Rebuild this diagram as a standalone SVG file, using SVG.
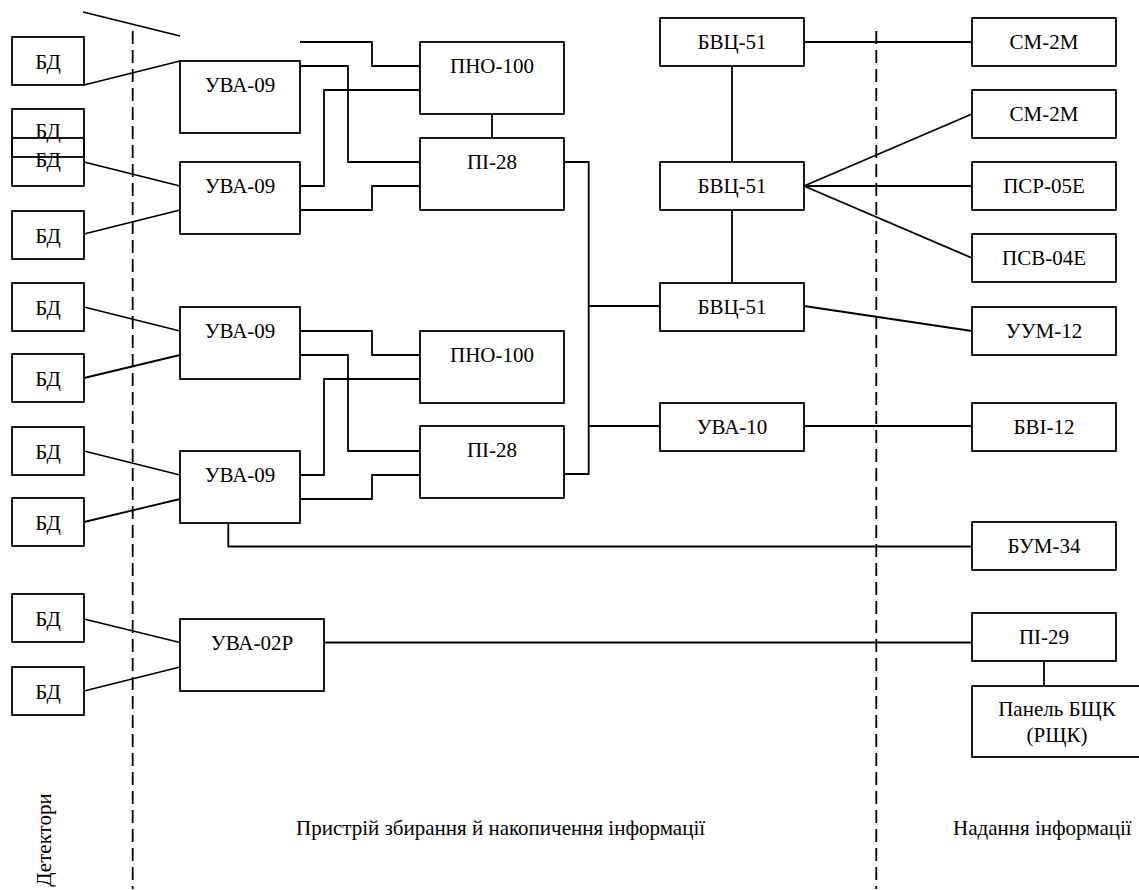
<svg xmlns="http://www.w3.org/2000/svg" width="1139" height="890" viewBox="0 0 1139 890" font-family="Liberation Serif, Times New Roman, serif" font-size="21">
<style>
rect{fill:none;stroke:#000;stroke-width:1.8}
.c line,.c polyline{fill:none;stroke:#000;stroke-width:1.8}
.d{stroke:#000;stroke-width:1.8;stroke-dasharray:13,6;fill:none}
.m{text-anchor:middle}
</style>
<rect x="0" y="0" width="1139" height="890" style="fill:#fff;stroke:none"/>
<line class="d" x1="132.7" y1="31" x2="132.7" y2="889"/>
<line class="d" x1="876.3" y1="31" x2="876.3" y2="889"/>
<g class="c" id="connectors">
<line x1="83" y1="12" x2="180" y2="36"/>
<line x1="84" y1="85" x2="180" y2="61"/>
<line x1="84" y1="162" x2="180" y2="186"/>
<line x1="84" y1="234" x2="180" y2="210"/>
<polyline points="300,66 348,66 348,162 420,162"/>
<polyline points="300,186 324,186 324,90 420,90"/>
<polyline points="300,210 372,210 372,186 420,186"/>
<polyline points="300,42 372,42 372,66 420,66"/>
<line x1="492" y1="114" x2="492" y2="138"/>
<polyline points="564,162 588.7,162 588.7,474 564,474"/>
<line x1="588.7" y1="306" x2="660" y2="306"/>
<line x1="588.7" y1="426" x2="660" y2="426"/>
<line x1="732" y1="66" x2="732" y2="162"/>
<line x1="732" y1="210" x2="732" y2="283"/>
<line x1="804" y1="42" x2="972" y2="42"/>
<line x1="804" y1="186" x2="972" y2="114"/>
<line x1="804" y1="186" x2="972" y2="186"/>
<line x1="804" y1="186" x2="972" y2="258"/>
<line x1="804" y1="306" x2="972" y2="331"/>
<line x1="804" y1="426" x2="972" y2="426"/>
<line x1="84" y1="307" x2="180" y2="331"/>
<line x1="84" y1="378" x2="180" y2="355"/>
<line x1="84" y1="451" x2="180" y2="475"/>
<line x1="84" y1="522" x2="180" y2="499"/>
<polyline points="300,331 372,331 372,355 420,355"/>
<polyline points="300,355 348,355 348,451 420,451"/>
<polyline points="300,475 324,475 324,379 420,379"/>
<polyline points="300,499 372,499 372,475 420,475"/>
<polyline points="228.3,523 228.3,546.5 972,546.5"/>
<line x1="84" y1="619" x2="180" y2="642.5"/>
<line x1="84" y1="691" x2="180" y2="667"/>
<line x1="324" y1="642.5" x2="972" y2="642.5"/>
<line x1="1044" y1="661" x2="1044" y2="686"/>
</g>
<g id="bd1"><rect x="12" y="37" width="72" height="48"/><text class="m" x="48" y="69">БД</text></g>
<g id="bd2"><rect x="12" y="109" width="72" height="48"/><text class="m" x="48" y="138">БД</text></g>
<g id="bd3"><rect x="12" y="138" width="72" height="48"/><text class="m" x="48" y="167">БД</text></g>
<g id="bd4"><rect x="12" y="211" width="72" height="48"/><text class="m" x="48" y="243">БД</text></g>
<g id="bd5"><rect x="12" y="283" width="72" height="48"/><text class="m" x="48" y="315">БД</text></g>
<g id="bd6"><rect x="12" y="354" width="72" height="48"/><text class="m" x="48" y="386">БД</text></g>
<g id="bd7"><rect x="12" y="427" width="72" height="48"/><text class="m" x="48" y="459">БД</text></g>
<g id="bd8"><rect x="12" y="498" width="72" height="48"/><text class="m" x="48" y="530">БД</text></g>
<g id="bd9"><rect x="12" y="594" width="72" height="48"/><text class="m" x="48" y="626">БД</text></g>
<g id="bd10"><rect x="12" y="667" width="72" height="48"/><text class="m" x="48" y="699">БД</text></g>
<g id="uva09-1"><rect x="180" y="61" width="120" height="72"/><text class="m" x="240" y="92">УВА-09</text></g>
<g id="uva09-2"><rect x="180" y="162" width="120" height="72"/><text class="m" x="240" y="193">УВА-09</text></g>
<g id="uva09-3"><rect x="180" y="307" width="120" height="72"/><text class="m" x="240" y="338">УВА-09</text></g>
<g id="uva09-4"><rect x="180" y="451" width="120" height="72"/><text class="m" x="240" y="482">УВА-09</text></g>
<g id="uva02r"><rect x="180" y="619" width="144" height="72"/><text class="m" x="252" y="650">УВА-02Р</text></g>
<g id="pno100-1"><rect x="420" y="42" width="144" height="72"/><text class="m" x="492" y="73">ПНО-100</text></g>
<g id="pi28-1"><rect x="420" y="138" width="144" height="72"/><text class="m" x="492" y="169">ПІ-28</text></g>
<g id="pno100-2"><rect x="420" y="331" width="144" height="72"/><text class="m" x="492" y="362">ПНО-100</text></g>
<g id="pi28-2"><rect x="420" y="426" width="144" height="72"/><text class="m" x="492" y="457">ПІ-28</text></g>
<g id="bvc51-1"><rect x="660" y="18" width="144" height="48"/><text class="m" x="732" y="49">БВЦ-51</text></g>
<g id="bvc51-2"><rect x="660" y="162" width="144" height="48"/><text class="m" x="732" y="193">БВЦ-51</text></g>
<g id="bvc51-3"><rect x="660" y="283" width="144" height="48"/><text class="m" x="732" y="314">БВЦ-51</text></g>
<g id="uva10"><rect x="660" y="403" width="144" height="48"/><text class="m" x="732" y="434">УВА-10</text></g>
<g id="cm2m-1"><rect x="972" y="18" width="144" height="48"/><text class="m" x="1044" y="49">СМ-2М</text></g>
<g id="cm2m-2"><rect x="972" y="90" width="144" height="48"/><text class="m" x="1044" y="121">СМ-2М</text></g>
<g id="psr05e"><rect x="972" y="162" width="144" height="48"/><text class="m" x="1044" y="193">ПСР-05Е</text></g>
<g id="psv04e"><rect x="972" y="234" width="144" height="48"/><text class="m" x="1044" y="265">ПСВ-04Е</text></g>
<g id="uum12"><rect x="972" y="307" width="144" height="48"/><text class="m" x="1044" y="338">УУМ-12</text></g>
<g id="bvi12"><rect x="972" y="403" width="144" height="48"/><text class="m" x="1044" y="434">БВІ-12</text></g>
<g id="bum34"><rect x="972" y="522" width="144" height="48"/><text class="m" x="1044" y="553">БУМ-34</text></g>
<g id="pi29"><rect x="972" y="613" width="144" height="48"/><text class="m" x="1044" y="644">ПІ-29</text></g>
<g id="panel"><rect x="972" y="686" width="170" height="71"/><text class="m" x="1057" y="716">Панель БЩК</text><text class="m" x="1057" y="742">(РЩК)</text></g>
<g id="labels">
<text class="m" transform="translate(51,840) rotate(-90)">Детектори</text>
<text x="296" y="835">Пристрій збирання й накопичення інформації</text>
<text x="953" y="835">Надання інформації</text>
</g>
</svg>
